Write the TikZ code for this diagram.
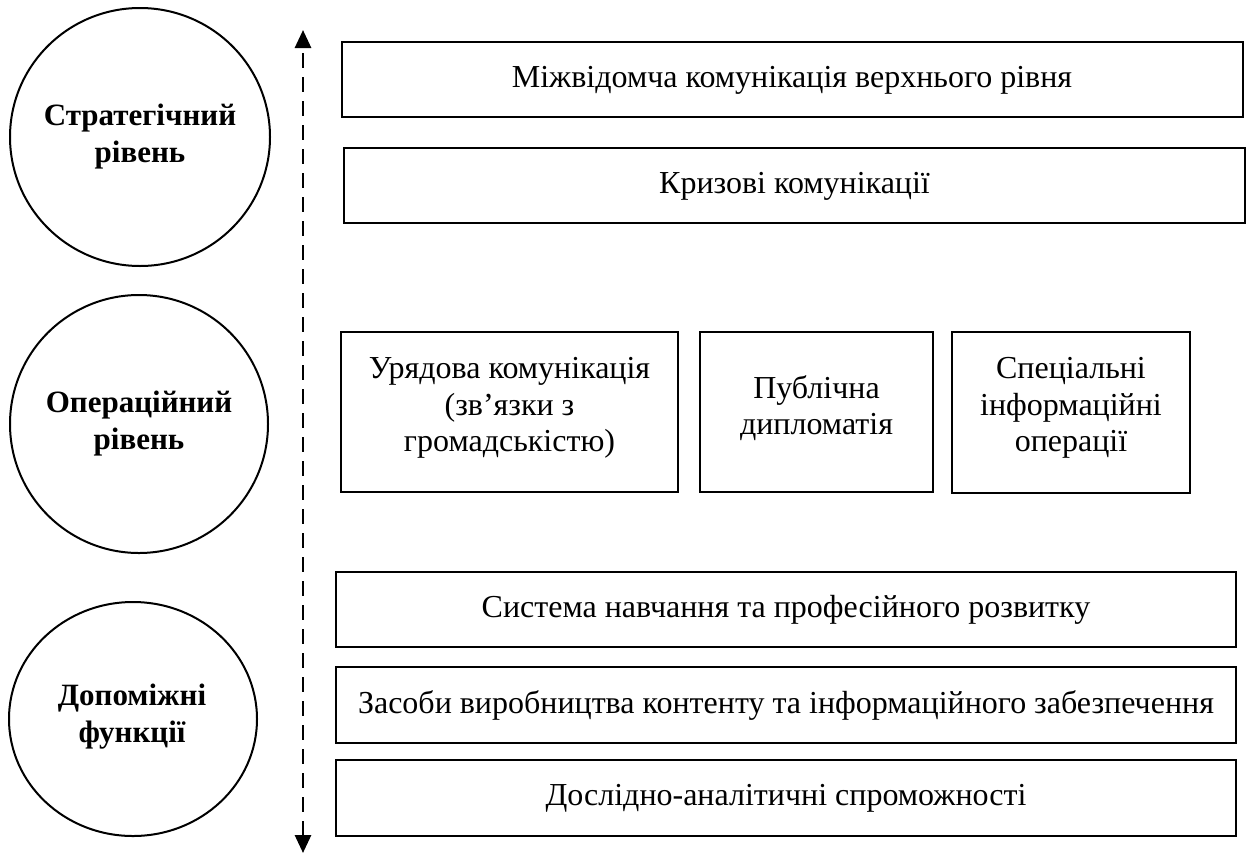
\documentclass[tikz,border=0pt]{standalone}
\usepackage{fontspec}
\setmainfont{Liberation Serif}
\usetikzlibrary{arrows.meta}
\begin{document}
\begin{tikzpicture}[x=1pt,y=-1pt,
  boxstyle/.style={draw, line width=2.4pt},
  boxtext/.style={align=center, font=\fontsize{32}{36.5}\selectfont, inner sep=0pt},
  levelcirc/.style={draw, line width=2pt},
  leveltext/.style={align=center, font=\fontsize{31}{37}\selectfont\bfseries, inner sep=0pt},
  axisline/.style={line width=2.8pt, dash pattern=on 15pt off 9pt, {Triangle[width=16pt,length=18pt]}-{Triangle[width=16pt,length=18pt]}}
]
\useasboundingbox (0,0) rectangle (1246,854);
% circles
\draw[levelcirc] (140,137) ellipse [x radius=130, y radius=129];
\node[leveltext] (c1) at (140,137) {Стратегічний\\рівень};
\draw[levelcirc] (139,424) ellipse [x radius=129, y radius=129];
\node[leveltext] (c2) at (139,424) {Операційний\\рівень};
\draw[levelcirc] (133,719) ellipse [x radius=124, y radius=117];
\node[leveltext] (c3) at (132,717) {Допоміжні\\функції};
% axis
\coordinate (atop) at (303,30);
\coordinate (abot) at (303,853);
\draw[axisline] (abot) -- (atop);
% boxes
\draw[boxstyle] (342,42) rectangle (1243,117);
\node[boxtext] (b1) at (792,80) {Міжвідомча комунікація верхнього рівня};
\draw[boxstyle] (344,148) rectangle (1245,223);
\node[boxtext] (b2) at (794.5,186) {Кризові комунікації};
\draw[boxstyle] (341,332) rectangle (678,492);
\node[boxtext] (b3) at (509.5,408) {Урядова комунікація\\(зв’язки з\\громадськістю)};
\draw[boxstyle] (700,332) rectangle (933,492);
\node[boxtext] (b4) at (816.5,408) {Публічна\\дипломатія};
\draw[boxstyle] (952,332) rectangle (1190,493);
\node[boxtext] (b5) at (1071,408) {Спеціальні\\інформаційні\\операції};
\draw[boxstyle] (336,572) rectangle (1236,647);
\node[boxtext] (b6) at (786,610) {Система навчання та професійного розвитку};
\draw[boxstyle] (336,667) rectangle (1236,743);
\node[boxtext] (b7) at (786,705) {Засоби виробництва контенту та інформаційного забезпечення};
\draw[boxstyle] (336,760) rectangle (1236,836);
\node[boxtext] (b8) at (786,798) {Дослідно-аналітичні спроможності};
\end{tikzpicture}
\end{document}
